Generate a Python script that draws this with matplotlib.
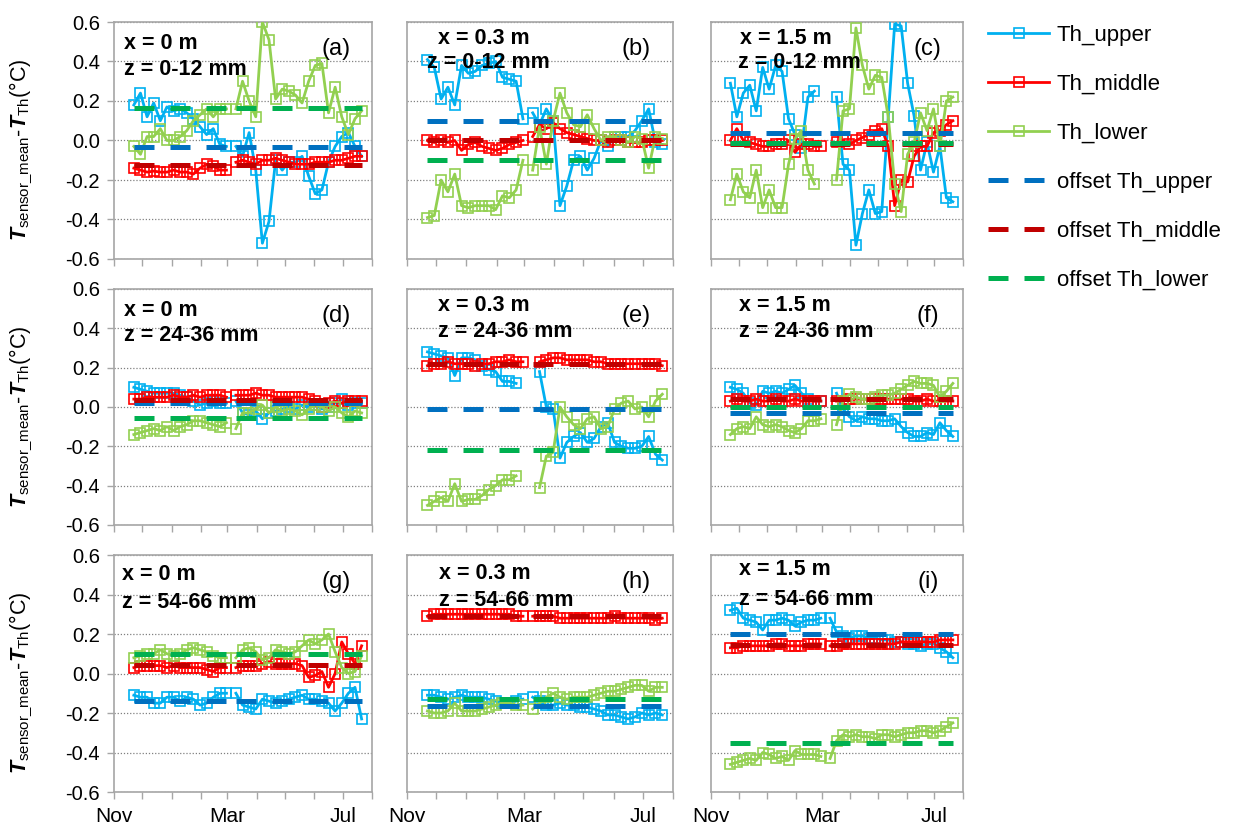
import matplotlib
matplotlib.use('Agg')
import matplotlib.pyplot as plt
import numpy as np
from matplotlib.lines import Line2D

plt.rcParams['font.family'] = ['Liberation Sans', 'DejaVu Sans']
plt.rcParams['mathtext.fontset'] = 'custom'
plt.rcParams['mathtext.rm'] = 'Liberation Sans'
plt.rcParams['mathtext.it'] = 'Liberation Sans:italic:bold'
plt.rcParams['mathtext.bf'] = 'Liberation Sans:bold'
plt.rcParams['axes.unicode_minus'] = False

nan = float('nan')

# ---------------- data ----------------
dates_winter = ['2012-11-22', '2012-11-29', '2012-12-06', '2012-12-13', '2012-12-20',
                '2012-12-27', '2013-01-03', '2013-01-10', '2013-01-17', '2013-01-24',
                '2013-01-31', '2013-02-07', '2013-02-14', '2013-02-21', '2013-02-28']
dates_spring = ['2013-03-10', '2013-03-17', '2013-03-24', '2013-03-31', '2013-04-07',
                '2013-04-14', '2013-04-21', '2013-04-28', '2013-05-05', '2013-05-12',
                '2013-05-19', '2013-05-26', '2013-06-02', '2013-06-09', '2013-06-16',
                '2013-06-23', '2013-06-30', '2013-07-07', '2013-07-14', '2013-07-21']
month_ticks = ['2012-11-01', '2012-12-01', '2013-01-01', '2013-02-01', '2013-03-01',
               '2013-04-01', '2013-05-01', '2013-06-01', '2013-07-01', '2013-08-01']
month_labels = ['Nov', '', '', '', 'Mar', '', '', '', 'Jul', '']
y_ticks = [-0.6, -0.4, -0.2, 0.0, 0.2, 0.4, 0.6]

x_sites = ['x = 0 m', 'x = 0.3 m', 'x = 1.5 m']
z_depths = ['z = 0-12 mm', 'z = 24-36 mm', 'z = 54-66 mm']
panel_letters = ['(a)', '(b)', '(c)', '(d)', '(e)', '(f)', '(g)', '(h)', '(i)']
series_names = ['Th_upper', 'Th_middle', 'Th_lower']
offset_names = ['offset Th_upper', 'offset Th_middle', 'offset Th_lower']

# (a) x = 0 m, z = 0-12 mm   (15 winter values, then 20 spring values)
upper_a = [0.18, 0.24, 0.12, 0.19, 0.10, 0.17, 0.15, 0.16, 0.14, 0.11, 0.07, 0.03, 0.06, -0.02, -0.03,
           -0.03, -0.08, 0.04, -0.15, -0.52, -0.41, -0.10, -0.15, -0.11, -0.11, -0.08, -0.18, -0.27, -0.25,
           -0.11, -0.03, 0.02, 0.04, -0.03, -0.08]
middle_a = [-0.14, -0.15, -0.16, -0.155, -0.16, -0.16, -0.15, -0.16, -0.16, -0.17, -0.14, -0.12, -0.13, -0.15, -0.15,
            -0.11, -0.10, -0.11, -0.12, -0.10, -0.10, -0.09, -0.10, -0.11, -0.12, -0.12, -0.12, -0.11, -0.11,
            -0.11, -0.10, -0.10, -0.09, -0.08, -0.08]
lower_a = [-0.03, -0.07, 0.02, 0.02, 0.06, 0.0, 0.0, 0.02, 0.05, 0.10, 0.13, 0.16, 0.12, 0.16, 0.16,
           0.16, 0.30, 0.20, 0.12, 0.60, 0.51, 0.21, 0.26, 0.25, 0.23, 0.19, 0.30, 0.38, 0.39, 0.14,
           0.27, 0.12, 0.03, 0.11, 0.15]
offset_a = [-0.035, -0.125, 0.165]

# (b) x = 0.3 m, z = 0-12 mm
upper_b = [0.41, 0.37, 0.21, 0.27, 0.18, 0.38, 0.34, 0.35, 0.38, 0.39, 0.40, 0.32, 0.31, 0.30, 0.11,
           0.14, 0.08, 0.16, 0.10, -0.33, -0.23, -0.10, -0.08, -0.15, -0.09, 0.0, -0.03, 0.02, 0.02,
           0.02, 0.05, 0.10, 0.16, -0.01, -0.02]
middle_b = [0.0, -0.01, 0.0, -0.01, 0.0, -0.05, -0.02, -0.01, -0.03, -0.04, -0.05, -0.04, -0.02, -0.01, 0.0,
            0.02, 0.08, 0.06, 0.09, 0.06, 0.04, 0.03, 0.02, 0.01, 0.0, 0.0, -0.01, 0.0, 0.0,
            -0.01, -0.01, -0.01, 0.0, 0.0, 0.0]
lower_b = [-0.39, -0.38, -0.20, -0.26, -0.17, -0.33, -0.34, -0.33, -0.33, -0.33, -0.35, -0.28, -0.29, -0.25, -0.10,
           -0.15, 0.07, -0.12, 0.10, 0.24, 0.14, 0.08, 0.07, 0.13, 0.06, 0.0, 0.02, 0.02, 0.0,
           -0.01, 0.02, 0.01, -0.14, 0.02, 0.01]
offset_b = [0.10, 0.0, -0.10]

# (c) x = 1.5 m, z = 0-12 mm
upper_c = [0.29, 0.12, 0.24, 0.28, 0.15, 0.37, 0.26, 0.38, 0.35, 0.11, 0.03, -0.04, 0.22, 0.25, nan,
           nan, 0.22, -0.12, -0.15, -0.53, -0.37, -0.25, -0.37, -0.36, 0.12, 0.59, 0.58, 0.29, 0.125,
           -0.15, -0.01, -0.16, -0.03, -0.29, -0.31]
middle_c = [0.0, 0.06, 0.0, -0.01, -0.02, -0.03, -0.03, -0.02, -0.02, 0.0, -0.06, -0.02, -0.02, -0.03, -0.03,
            nan, -0.01, 0.0, -0.02, 0.0, 0.015, 0.03, 0.05, 0.06, -0.03, -0.33, -0.20, -0.21, -0.08,
            -0.03, -0.03, 0.04, 0.05, 0.08, 0.10]
lower_c = [-0.30, -0.17, -0.26, -0.29, -0.15, -0.34, -0.25, -0.34, -0.34, -0.12, 0.01, 0.05, -0.15, -0.22, nan,
           nan, -0.20, 0.15, 0.16, 0.57, 0.38, 0.26, 0.33, 0.32, 0.12, -0.22, -0.36, -0.07, -0.01,
           0.14, 0.05, 0.16, -0.03, 0.20, 0.22]
offset_c = [0.04, -0.02, -0.015]

# (d) x = 0 m, z = 24-36 mm
upper_d = [0.10, 0.09, 0.08, 0.07, 0.07, 0.07, 0.07, 0.06, 0.05, 0.03, 0.01, 0.02, 0.03, 0.02, 0.02,
           0.03, -0.03, -0.04, -0.02, -0.06, -0.03, -0.02, -0.01, 0.0, -0.01, 0.01, 0.0, 0.01, -0.01,
           0.0, 0.02, 0.04, 0.01, 0.02, 0.02]
middle_d = [0.04, 0.04, 0.05, 0.05, 0.05, 0.05, 0.06, 0.05, 0.05, 0.06, 0.05, 0.06, 0.06, 0.06, 0.05,
            0.06, 0.06, 0.06, 0.07, 0.06, 0.06, 0.05, 0.05, 0.05, 0.05, 0.05, 0.04, 0.03, 0.0,
            0.02, 0.03, 0.02, 0.03, 0.03, 0.03]
lower_d = [-0.14, -0.13, -0.12, -0.11, -0.12, -0.10, -0.12, -0.10, -0.09, -0.07, -0.07, -0.08, -0.09, -0.10, -0.08,
           -0.11, -0.03, -0.03, -0.01, 0.01, -0.03, 0.0, -0.02, -0.01, -0.02, -0.04, -0.01, 0.01, 0.0,
           -0.02, 0.0, -0.03, -0.05, -0.02, -0.03]
offset_d = [0.02, 0.037, -0.055]

# (e) x = 0.3 m, z = 24-36 mm
upper_e = [0.28, 0.27, 0.26, 0.25, 0.16, 0.25, 0.25, 0.24, 0.21, 0.19, 0.18, 0.13, 0.13, 0.12, nan,
           nan, 0.18, 0.0, -0.01, -0.26, -0.18, -0.15, -0.13, -0.18, -0.16, -0.10, -0.08, -0.18, -0.20,
           -0.21, -0.21, -0.20, -0.15, -0.24, -0.27]
middle_e = [0.21, 0.22, 0.22, 0.23, 0.22, 0.22, 0.22, 0.21, 0.22, 0.22, 0.23, 0.23, 0.24, 0.23, 0.23,
            nan, 0.23, 0.24, 0.25, 0.25, 0.24, 0.24, 0.24, 0.24, 0.23, 0.23, 0.22, 0.22, 0.22,
            0.22, 0.22, 0.22, 0.22, 0.22, 0.21]
lower_e = [-0.50, -0.48, -0.46, -0.48, -0.39, -0.48, -0.47, -0.47, -0.45, -0.42, -0.40, -0.37, -0.37, -0.35, nan,
           nan, -0.41, -0.25, -0.23, 0.0, -0.05, -0.09, -0.11, -0.06, -0.05, -0.11, -0.10, -0.01, 0.02,
           0.03, -0.01, 0.0, -0.05, 0.03, 0.065]
offset_e = [-0.012, 0.22, -0.22]

# (f) x = 1.5 m, z = 24-36 mm
upper_f = [0.10, 0.09, 0.07, 0.02, 0.01, 0.08, 0.07, 0.08, 0.07, 0.09, 0.11, 0.07, 0.04, 0.03, 0.03,
           nan, 0.07, -0.01, -0.05, -0.07, -0.05, -0.06, -0.06, -0.07, -0.07, -0.06, -0.10, -0.13, -0.15,
           -0.15, -0.13, -0.14, -0.08, -0.12, -0.15]
middle_f = [0.03, 0.04, 0.03, 0.03, 0.04, 0.03, 0.03, 0.04, 0.03, 0.03, 0.04, 0.03, 0.03, 0.03, 0.03,
            nan, 0.03, 0.03, 0.04, 0.04, 0.04, 0.04, 0.04, 0.04, 0.04, 0.04, 0.04, 0.04, 0.03,
            0.03, 0.04, 0.03, 0.03, 0.03, 0.03]
lower_f = [-0.14, -0.11, -0.10, -0.11, -0.05, -0.09, -0.10, -0.09, -0.10, -0.12, -0.13, -0.11, -0.07, -0.07, -0.06,
           nan, -0.09, 0.03, 0.065, 0.05, 0.04, 0.04, 0.05, 0.06, 0.06, 0.07, 0.09, 0.11, 0.13,
           0.12, 0.12, 0.11, 0.05, 0.08, 0.12]
offset_f = [-0.03, 0.04, 0.0]

# (g) x = 0 m, z = 54-66 mm
upper_g = [-0.11, -0.12, -0.12, -0.15, -0.15, -0.12, -0.12, -0.14, -0.12, -0.13, -0.16, -0.15, -0.12, -0.10, -0.10,
           -0.10, -0.16, -0.17, -0.18, -0.13, -0.14, -0.15, -0.14, -0.13, -0.12, -0.11, -0.13, -0.13, -0.14,
           -0.15, -0.19, -0.15, -0.10, -0.07, -0.23]
middle_g = [0.03, 0.04, 0.04, 0.04, 0.04, 0.03, 0.04, 0.03, 0.03, 0.03, 0.03, 0.02, 0.01, 0.03, 0.03,
            0.03, 0.04, 0.04, 0.04, 0.05, 0.06, 0.05, 0.05, 0.05, 0.05, 0.04, -0.02, -0.01, 0.01,
            -0.07, 0.00, 0.16, 0.10, 0.05, 0.14]
lower_g = [0.08, 0.09, 0.10, 0.10, 0.12, 0.10, 0.09, 0.10, 0.12, 0.13, 0.12, 0.11, 0.09, 0.08, 0.08,
           0.08, 0.12, 0.13, 0.11, 0.07, 0.08, 0.12, 0.11, 0.10, 0.11, 0.14, 0.17, 0.15, 0.17,
           0.20, 0.11, 0.03, 0.00, 0.01, 0.09]
offset_g = [-0.14, 0.045, 0.10]

# (h) x = 0.3 m, z = 54-66 mm
upper_h = [-0.11, -0.11, -0.12, -0.13, -0.12, -0.11, -0.12, -0.12, -0.12, -0.13, -0.14, -0.15, -0.15, -0.14, -0.13,
           -0.12, -0.14, -0.16, -0.16, -0.15, -0.16, -0.16, -0.17, -0.17, -0.18, -0.19, -0.21, -0.21, -0.22,
           -0.23, -0.22, -0.20, -0.21, -0.20, -0.21]
middle_h = [0.29, 0.30, 0.30, 0.30, 0.30, 0.30, 0.30, 0.30, 0.30, 0.30, 0.30, 0.30, 0.30, 0.29, 0.29,
            0.29, 0.29, 0.29, 0.29, 0.28, 0.28, 0.28, 0.28, 0.28, 0.28, 0.28, 0.28, 0.29, 0.28,
            0.28, 0.28, 0.28, 0.28, 0.27, 0.28]
lower_h = [-0.19, -0.20, -0.20, -0.19, -0.15, -0.19, -0.19, -0.19, -0.18, -0.17, -0.16, -0.15, -0.15, -0.16, -0.16,
           -0.18, -0.15, -0.12, -0.10, -0.12, -0.13, -0.12, -0.12, -0.12, -0.11, -0.10, -0.09, -0.09, -0.08,
           -0.07, -0.06, -0.06, -0.09, -0.07, -0.07]
offset_h = [-0.165, 0.29, -0.13]

# (i) x = 1.5 m, z = 54-66 mm
upper_i = [0.32, 0.33, 0.28, 0.27, 0.26, 0.22, 0.27, 0.27, 0.28, 0.27, 0.24, 0.26, 0.27, 0.27, 0.28,
           0.28, 0.21, 0.19, 0.18, 0.19, 0.19, 0.18, 0.18, 0.17, 0.17, 0.16, 0.16, 0.15, 0.15,
           0.14, 0.15, 0.15, 0.13, 0.11, 0.08]
middle_i = [0.13, 0.13, 0.14, 0.14, 0.14, 0.14, 0.14, 0.15, 0.15, 0.14, 0.14, 0.14, 0.15, 0.15, 0.15,
            0.14, 0.14, 0.15, 0.15, 0.15, 0.15, 0.15, 0.15, 0.15, 0.15, 0.15, 0.16, 0.16, 0.16,
            0.16, 0.16, 0.16, 0.17, 0.17, 0.17]
lower_i = [-0.46, -0.45, -0.44, -0.43, -0.44, -0.40, -0.41, -0.43, -0.42, -0.44, -0.39, -0.41, -0.41, -0.41, -0.42,
           -0.43, -0.34, -0.31, -0.32, -0.31, -0.32, -0.32, -0.33, -0.31, -0.31, -0.32, -0.31, -0.30, -0.30,
           -0.29, -0.29, -0.30, -0.29, -0.27, -0.25]
offset_i = [0.20, 0.145, -0.353]

# ---------------- style ----------------
line_colors = ['#00B0F0', '#FF0000', '#92D050']
offset_colors = ['#0070C0', '#C00000', '#00B050']
spine_color = '#A6A6A6'

W, H = 1233, 830
col_px = [(114, 372), (407, 673), (711, 963)]
row_px = [(22, 259), (289, 525), (555, 792)]

xlab_x = [0.04, 0.117, 0.115, 0.04, 0.117, 0.111, 0.03, 0.12, 0.111]
zlab_x = [0.04, 0.075, 0.107, 0.04, 0.117, 0.111, 0.03, 0.12, 0.111]
xlab_y = [0.91, 0.93, 0.93, 0.91, 0.93, 0.93, 0.916, 0.924, 0.937]
zlab_y = [0.80, 0.83, 0.83, 0.805, 0.82, 0.82, 0.80, 0.81, 0.814]

panels = [
    (upper_a, middle_a, lower_a, offset_a),
    (upper_b, middle_b, lower_b, offset_b),
    (upper_c, middle_c, lower_c, offset_c),
    (upper_d, middle_d, lower_d, offset_d),
    (upper_e, middle_e, lower_e, offset_e),
    (upper_f, middle_f, lower_f, offset_f),
    (upper_g, middle_g, lower_g, offset_g),
    (upper_h, middle_h, lower_h, offset_h),
    (upper_i, middle_i, lower_i, offset_i),
]

dw = np.array(dates_winter, dtype='datetime64[D]')
ds = np.array(dates_spring, dtype='datetime64[D]')
mt = np.array(month_ticks, dtype='datetime64[D]')
nw = len(dw)

fig = plt.figure(figsize=(W / 100, H / 100), dpi=100)

for idx, (up, mid, low, offs) in enumerate(panels):
    r, c = divmod(idx, 3)
    x0, x1 = col_px[c]
    y0, y1 = row_px[r]
    ax = fig.add_axes([x0 / W, 1 - y1 / H, (x1 - x0) / W, (y1 - y0) / H])

    for vals, col in zip((up, mid, low), line_colors):
        v = np.array(vals, dtype=float)
        for dd, vv in ((dw, v[:nw]), (ds, v[nw:])):
            ax.plot(dd, vv, color=col, lw=2.0, marker='s', ms=7.5, mfc='none',
                    mec=col, mew=1.2, zorder=3)
    for off, col in zip(offs, offset_colors):
        for dd in (dw, ds):
            ax.plot([dd[0], dd[-1]], [off, off], color=col, lw=3.6,
                    dashes=(4, 3.2), solid_capstyle='butt', zorder=4)

    ax.set_xlim(mt[0], mt[-1])
    ax.set_ylim(-0.6, 0.6)
    ax.set_yticks(y_ticks)
    ax.set_xticks(mt)
    if r == 2:
        ax.set_xticklabels(month_labels, fontsize=15)
    else:
        ax.set_xticklabels([])
    if c == 0:
        ax.set_yticklabels(['%.1f' % t for t in y_ticks], fontsize=14.5)
        ax.tick_params(axis='y', direction='out', length=5, width=1, color=spine_color, pad=5)
        ax.set_ylabel(r'$T_{\mathrm{sensor\_mean}}$-$T_{\mathrm{Th}}$(°C)', fontsize=15.5)
        ax.yaxis.set_label_coords(-0.305, 0.46)
    else:
        ax.set_yticklabels([])
        ax.tick_params(axis='y', length=0)
    ax.tick_params(axis='x', direction='out', length=5, width=1, color=spine_color, pad=6)

    ax.yaxis.grid(True, linestyle=(0, (1, 1.5)), color='#808080', lw=0.9)
    ax.set_axisbelow(True)
    for sp in ax.spines.values():
        sp.set_color(spine_color)
        sp.set_linewidth(1.2)

    ax.text(xlab_x[idx], xlab_y[idx], x_sites[c], transform=ax.transAxes, fontsize=15.5,
            fontweight='bold', ha='left', va='center', zorder=6)
    ax.text(zlab_x[idx], zlab_y[idx], z_depths[r], transform=ax.transAxes, fontsize=15.5,
            fontweight='bold', ha='left', va='center', zorder=6)
    ax.text(0.86, 0.885, panel_letters[idx], transform=ax.transAxes, fontsize=17,
            ha='center', va='center', zorder=6)

handles = []
for name, col in zip(series_names, line_colors):
    handles.append(Line2D([], [], color=col, lw=2.0, marker='s', ms=7.5, mfc='none',
                          mec=col, mew=1.2, label=name))
for name, col in zip(offset_names, offset_colors):
    handles.append(Line2D([], [], color=col, lw=3.6, dashes=(4, 3.2), label=name))

fig.legend(handles=handles, loc='upper left', bbox_to_anchor=(988 / W, 1 - 25 / H),
           frameon=False, fontsize=16, numpoints=1, handlelength=2.75, handletextpad=0.35,
           labelspacing=1.26, borderpad=0, borderaxespad=0)

fig.savefig('out.png', dpi=100)
